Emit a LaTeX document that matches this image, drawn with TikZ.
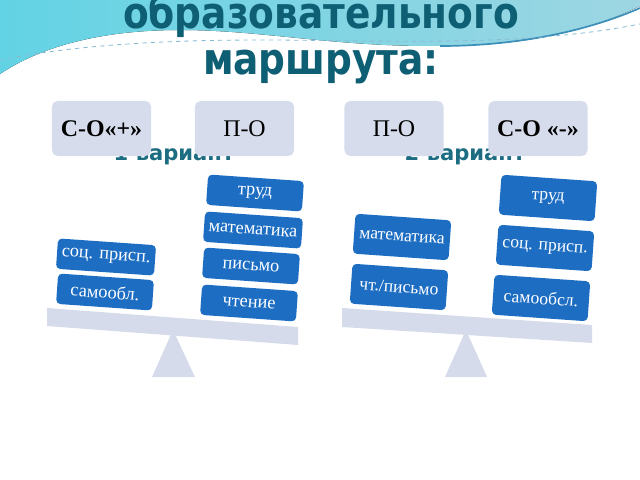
\documentclass[tikz,border=0pt]{standalone}
\usepackage{fontspec}
\setmainfont{Liberation Serif}
\newfontfamily\headfont{DejaVu Sans}
\newfontfamily\titlefont[FakeStretch=0.86]{DejaVu Sans}
\usetikzlibrary{positioning}
\definecolor{titleteal}{HTML}{0E5E74}
\definecolor{varteal}{HTML}{1C6C82}
\definecolor{tagfill}{HTML}{D6DCEB}
\definecolor{weightblue}{HTML}{1D6EC3}
\definecolor{plankgray}{HTML}{D5DBEA}
\definecolor{wavetop}{HTML}{9ED6E3}
\definecolor{wavelow}{HTML}{62D3E4}
\definecolor{waveline}{HTML}{3A8FB8}
\tikzset{
  tag/.style={rectangle,rounded corners=4pt,fill=tagfill,minimum width=2.475cm,minimum height=1.375cm,align=center,font=\fontsize{17}{19}\selectfont},
  weight/.style={rectangle,rounded corners=3pt,fill=weightblue,text=white,minimum width=2.4cm,minimum height=0.76cm,rotate=-4,font=\fontsize{13}{15}\selectfont},
  tallweight/.style={weight,minimum height=1cm,font=\fontsize{12.5}{14}\selectfont},
  variant/.style={text=varteal,anchor=base,font=\headfont\bfseries\fontsize{15}{17}\selectfont},
  heading/.style={text=titleteal,anchor=base,font=\titlefont\bfseries\fontsize{31}{36}\selectfont},
  plank/.style={fill=plankgray},
  pivot/.style={fill=plankgray}
}

\begin{document}
\begin{tikzpicture}[x=0.025cm,y=-0.025cm]
  \useasboundingbox (0,0) rectangle (640,480);
  \fill[left color=wavelow,right color=wavetop] (0,0) -- (640,0) -- (640,6) .. controls (570,40) and (500,46) .. (430,46) .. controls (330,46) and (260,30) .. (180,30) .. controls (100,30) and (40,47) .. (0,74) -- cycle;
  \draw[waveline,line width=1.2pt] (440,46) .. controls (520,46) and (590,30) .. (640,8);
  \draw[waveline!60,dashed,line width=0.6pt] (0,60) .. controls (60,48) and (140,40) .. (260,40) .. controls (380,40) and (520,48) .. (640,24);
  \node[heading] (t1) at (321,28) {образовательного};
  \node[heading] (t2) at (321,74) {маршрута:};

  \node[variant] (v1) at (174,160) {1 вариант};
  \node[variant] (v2) at (465,160) {2 вариант};
  \node[tag] (a) at (101.5,128.5) {\bfseries С-О«+»};
  \node[tag] (b) at (244.5,128.5) {П-О};
  \node[tag] (c) at (394,128.5) {П-О};
  \node[tag] (d) at (538,128.5) {\bfseries С-О «-»};

  \fill[pivot] (173,330) -- (195,377) -- (152,377) -- cycle;
  \fill[plank] (47,308) -- (298,327) -- (298,345) -- (47,326) -- cycle;
  \node[weight] (l1) at (106,257) {соц. присп.};
  \node[weight] (l2) at (105,292) {самообл.};
  \node[weight] (r1) at (255,193) {труд};
  \node[weight] (r2) at (253,230) {математика};
  \node[weight] (r3) at (251,266) {письмо};
  \node[weight] (r4) at (249,303) {чтение};

  \fill[pivot] (466,330) -- (487,377) -- (445,377) -- cycle;
  \fill[plank] (342,308) -- (592,325) -- (592,343) -- (342,327) -- cycle;
  \node[tallweight] (m1) at (402,237) {математика};
  \node[tallweight] (m2) at (399,287) {чт./письмо};
  \node[tallweight] (n1) at (548,198) {труд};
  \node[tallweight] (n2) at (545,248) {соц. присп.};
  \node[tallweight] (n3) at (541,298) {самообсл.};
\end{tikzpicture}
\end{document}
